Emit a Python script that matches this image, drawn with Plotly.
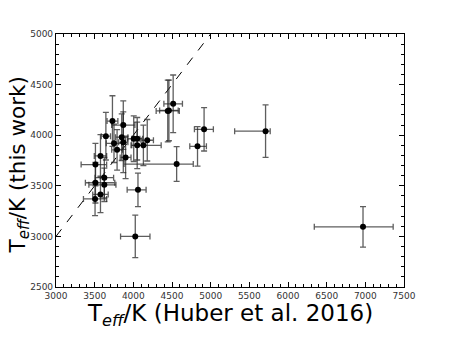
import plotly.graph_objects as go

# Teff comparison: Huber et al. 2016 (x) vs this work (y)
teff_huber = [3505, 3575, 3510, 3625, 3625, 3510, 3575, 3645, 3730, 3870,
              3850, 3870, 3750, 3790, 3900, 4005, 4050, 4050, 4130, 4180,
              4025, 4060, 4560, 4445, 4460, 4515, 4830, 4915, 5710, 6970]
huber_err_minus = [150, 100, 130, 200, 120, 185, 80, 60, 70, 150,
                   80, 60, 100, 70, 70, 80, 70, 70, 160, 80,
                   190, 140, 680, 150, 120, 120, 100, 125, 400, 630]
huber_err_plus = [150, 100, 250, 150, 120, 145, 80, 60, 70, 150,
                  80, 60, 100, 70, 70, 80, 70, 70, 230, 80,
                  190, 105, 215, 150, 120, 120, 115, 120, 60, 390]

teff_this = [3370, 3415, 3530, 3510, 3580, 3710, 3795, 3990, 4140, 4100,
             3980, 3930, 3920, 3855, 3780, 3965, 3965, 3900, 3900, 3950,
             3000, 3460, 3715, 4240, 4245, 4310, 3890, 4058, 4040, 3095]
this_err = [165, 180, 200, 165, 200, 210, 210, 235, 250, 240,
            230, 300, 190, 200, 210, 225, 210, 230, 200, 205,
            210, 165, 172, 305, 300, 285, 195, 214, 260, 200]

one_to_one = [3000, 5000]

fig = go.Figure()

# one-to-one line
fig.add_trace(go.Scatter(
    x=one_to_one, y=one_to_one,
    mode='lines',
    line=dict(color='black', width=1, dash='dash'),
    hoverinfo='skip',
    showlegend=False
))

fig.add_trace(go.Scatter(
    x=teff_huber, y=teff_this,
    mode='markers',
    marker=dict(color='black', size=6),
    error_x=dict(type='data', symmetric=False,
                 array=huber_err_plus, arrayminus=huber_err_minus,
                 color='rgba(40,40,40,0.75)', thickness=1.3, width=3),
    error_y=dict(type='data', array=this_err,
                 color='rgba(40,40,40,0.75)', thickness=1.3, width=3),
    showlegend=False
))

axis_common = dict(
    showgrid=False, zeroline=False, automargin=False,
    showline=True, linecolor='black', linewidth=1.2, mirror='ticks',
    ticks='inside', ticklen=5, tickcolor='black', tickwidth=1,
    tickfont=dict(family='DejaVu Sans', size=9, color='#333333'),
    minor=dict(dtick=100, ticks='inside', ticklen=2.5, tickcolor='black', tickwidth=1),
    dtick=500,
)

# axis titles as annotations so they sit where the original puts them
fig.add_annotation(
    text='T<sub><i>eff</i></sub>/K (Huber et al. 2016)',
    xref='paper', yref='paper', x=0.5, y=0,
    xanchor='center', yanchor='middle', yshift=-28,
    showarrow=False, font=dict(size=23, color='black')
)
fig.add_annotation(
    text='T<sub><i>eff</i></sub>/K (this work)',
    xref='paper', yref='paper', x=0, y=0.5,
    xanchor='center', yanchor='middle', xshift=-37, yshift=-5,
    textangle=-90,
    showarrow=False, font=dict(size=21.5, color='black')
)

# page body adds ~8px offset, margins compensate for it
fig.update_layout(
    width=450, height=338,
    margin=dict(l=48, r=54, t=26, b=59),
    paper_bgcolor='white', plot_bgcolor='white',
    font=dict(family='DejaVu Sans', color='black'),
    xaxis=dict(range=[3000, 7500], **axis_common),
    yaxis=dict(range=[2500, 5000], **axis_common),
)

fig.write_html("out.html")
